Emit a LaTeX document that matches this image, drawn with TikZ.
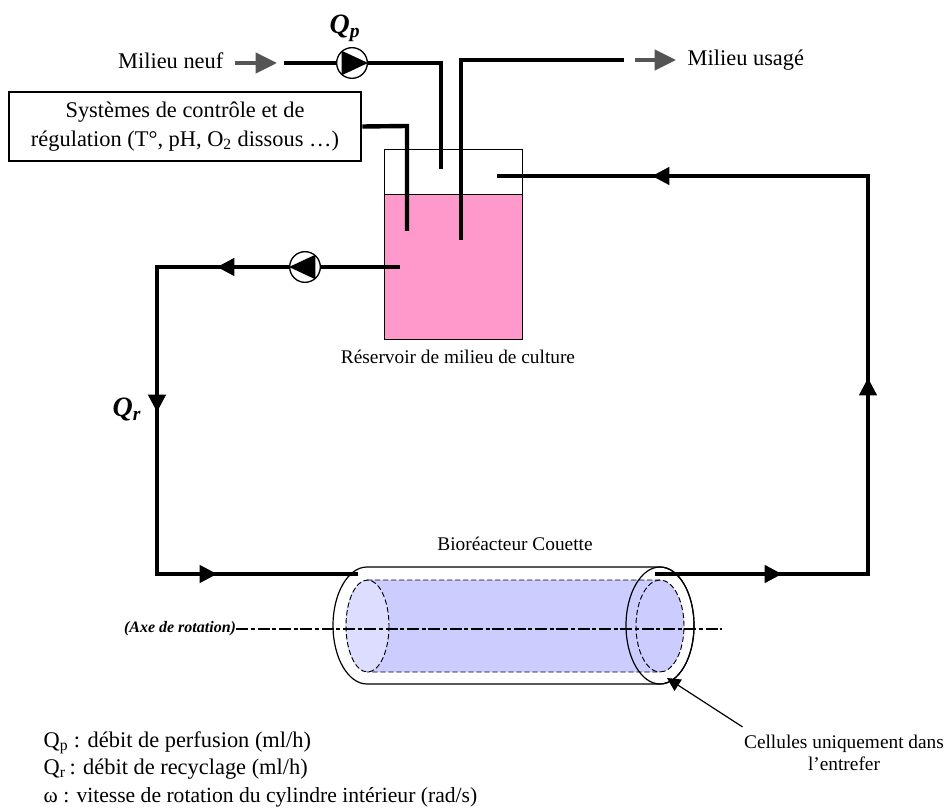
\documentclass[tikz,border=0pt]{standalone}
\usepackage{fontspec}
\setmainfont{Liberation Serif}
\usepackage{tikz}
\usetikzlibrary{arrows.meta,positioning,calc}
\definecolor{liquid}{HTML}{FF99CC}
\definecolor{culture}{HTML}{CCCCFF}
\definecolor{culturelt}{HTML}{DDDDFF}
\definecolor{feedgray}{HTML}{555555}

\begin{document}
\begin{tikzpicture}[x=0.75pt,y=-0.75pt,
  pipe/.style={line width=3.3pt},
  thin pipe/.style={line width=2.5pt},
  ar/.style={thin pipe,-{Triangle[length=13pt,width=13pt]}},
  feed/.style={line width=3pt,feedgray,-{Triangle[length=16pt,width=15pt]}},
  pump/.style={circle,draw,line width=1pt,fill=white,minimum size=23pt,inner sep=0pt},
  hidden/.style={dash pattern=on 4pt off 2pt,line width=0.7pt},
  lab/.style={font=\fontsize{16.8}{21.5}\selectfont},
  lbl/.style={font=\fontsize{14.5}{16.5}\selectfont},
  big/.style={font=\fontsize{21}{22}\selectfont\bfseries\itshape}]
\useasboundingbox (0,0) rectangle (946,809);

% tank
\fill[liquid] (384,194) rectangle (522,339);
\draw[line width=0.65pt] (384,149) rectangle (522,339);
\draw[line width=0.65pt] (384,194) -- (522,194);
\node[lbl] (tanklab) at (458,357) {Réservoir de milieu de culture};

% control box
\node[draw,line width=1.7pt,fill=white,lab,align=center,minimum width=264.5pt,minimum height=52pt] (ctrl) at (185,126.5)
  {Systèmes de contrôle et de\\régulation (T°, pH, O\textsubscript{2} dissous …)};

% points
\coordinate (in0) at (284,63);
\coordinate (in1) at (441,63);
\coordinate (in2) at (441,169);
\coordinate (out0) at (461,240);
\coordinate (out1) at (461,60);
\coordinate (out2) at (624,60);
\coordinate (ct1) at (407,126);
\coordinate (ct2) at (407,231);
\coordinate (ret0) at (497,176);
\coordinate (ret1) at (868,176);
\coordinate (ret2) at (868,574);
\coordinate (ret3) at (655,574);
\coordinate (go0) at (400,267);
\coordinate (go1) at (157,267);
\coordinate (go2) at (157,574);
\coordinate (go3) at (358,574);

% reactor
\draw[line width=0.9pt,fill=white] (367,567) -- (660,567) arc[start angle=-90,end angle=90,x radius=34,y radius=58.5] -- (367,684) arc[start angle=90,end angle=270,x radius=34,y radius=58.5];
\fill[culture] (367,580) -- (660,580) arc[start angle=-90,end angle=90,x radius=24,y radius=46] -- (367,672) arc[start angle=90,end angle=270,x radius=21.5,y radius=46] -- cycle;
\fill[culturelt] (367.5,626) ellipse[x radius=21.5,y radius=46];
\draw[hidden] (367,580) -- (660,580) arc[start angle=-90,end angle=90,x radius=24,y radius=46] -- (367,672);
\draw[hidden] (660,580) arc[start angle=-90,end angle=-270,x radius=24,y radius=46];
\draw[hidden] (367.5,626) ellipse[x radius=21.5,y radius=46];
\draw[line width=0.9pt] (660,625.5) ellipse[x radius=34,y radius=58.5];
\node[lbl] (reaclab) at (515,544) {Bioréacteur Couette};

% axis
\node[font=\fontsize{12}{14}\selectfont\bfseries\itshape,inner sep=0pt] (axelab) at (180,629) {(Axe de rotation)};
\coordinate (ax1) at (722,629);
\draw[line width=1.3pt,dash pattern=on 9pt off 2pt on 3pt off 2pt] (axelab.east) -- (ax1);

% pipes
\draw[pipe] (in0) -- (in1) -- (in2);
\draw[pipe] (out0) -- (out1) -- (out2);
\draw[pipe] (ctrl.east) -- (ct1) -- (ct2);
\draw[thin pipe] (ret0) -- (ret1) -- (ret2) -- (ret3);
\draw[thin pipe] (go0) -- (go1) -- (go2) -- (go3);

% flow arrows
\coordinate (f1) at (652,176);
\coordinate (f2) at (868,378);
\coordinate (f3) at (782,574);
\coordinate (f4) at (217,574);
\coordinate (f5) at (217,267);
\coordinate (f6) at (157,412);
\draw[ar] (ret1) -- (f1);
\draw[ar] (ret2) -- (f2);
\draw[ar] (ret3) -- (f3);
\draw[ar] (go2) -- (f4);
\draw[ar] (go0) -- (f5);
\draw[ar] (go1) -- (f6);

% pumps
\node[pump] (pumpp) at (352,63) {};
\node[pump] (pumpr) at (305,267) {};
\fill (pumpp.130) -- (pumpp.east) -- (pumpp.230) -- cycle;
\fill (pumpr.50) -- (pumpr.west) -- (pumpr.310) -- cycle;
\node[big] (qp) at (345,28) {Q\textsubscript{p}};
\node[big] (qr) at (127,409) {Q\textsubscript{r}};

% feed and waste
\node[lab,anchor=east] (neuf) at (228,61) {Milieu neuf};
\node[lab,anchor=west] (usage) at (683,60) {Milieu usagé};
\coordinate (fa) at (235,63);
\coordinate (fb) at (277,63);
\coordinate (fc) at (635,60);
\coordinate (fd) at (676,60);
\draw[feed] (fa) -- (fb);
\draw[feed] (fc) -- (fd);

% note
\node[lbl,align=center,inner sep=1pt] (cell) at (844,753) {Cellules uniquement dans\\l'entrefer};
\coordinate (tip) at (667,678);
\draw[line width=0.9pt,-{Triangle[length=10pt,width=10pt]}] ([yshift=5pt]cell.north west) -- (tip);

% legend
\node[lab,anchor=west] (lega) at (39,743) {Q\textsubscript{p} : débit de perfusion (ml/h)};
\node[lab,anchor=west] (legb) at (39,769) {Q\textsubscript{r}\,: débit de recyclage (ml/h)};
\node[lab,anchor=west,font=\fontsize{16.2}{21}\selectfont] (legc) at (39,797) {ω : vitesse de rotation du cylindre intérieur (rad/s)};
\end{tikzpicture}
\end{document}
